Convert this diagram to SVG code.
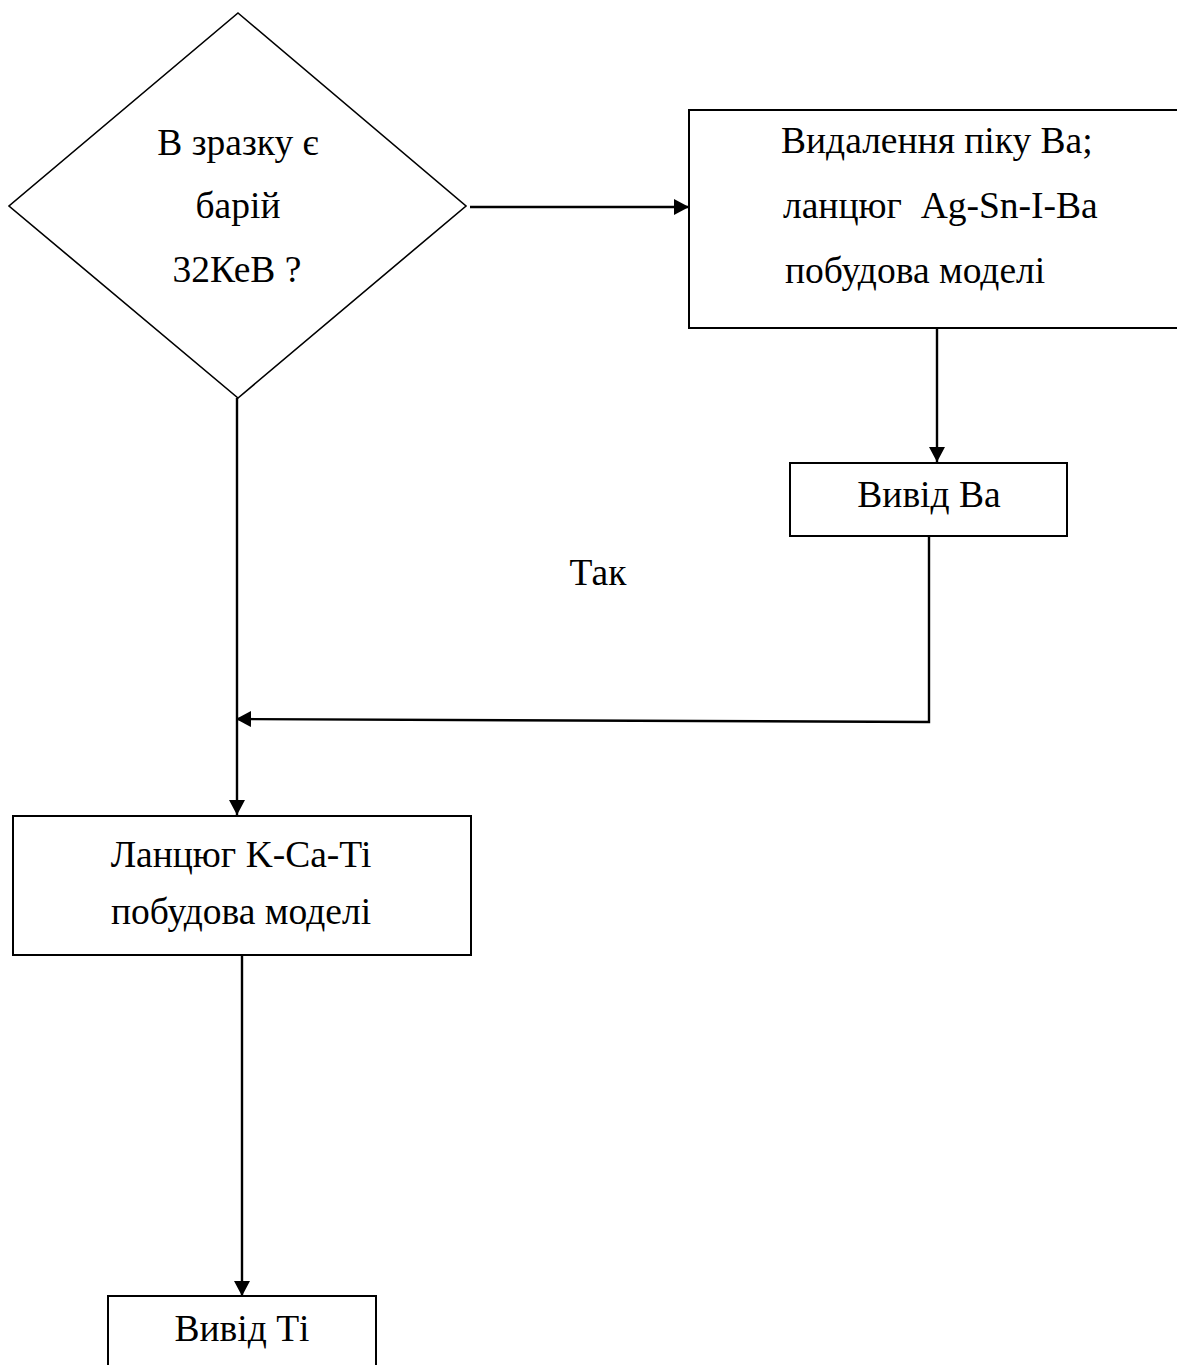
<svg xmlns="http://www.w3.org/2000/svg" width="1177" height="1365" viewBox="0 0 1177 1365">
  <defs>
    <marker id="arrow" markerUnits="userSpaceOnUse" markerWidth="16" markerHeight="16" refX="15" refY="8" orient="auto">
      <path d="M0,0 L15,8 L0,16 z" fill="#000"/>
    </marker>
    <style>
      .box { fill: #fff; stroke: #000; stroke-width: 2; }
      .dia { fill: #fff; stroke: #000; stroke-width: 1.6; }
      .conn { fill: none; stroke: #000; stroke-width: 2.4; }
      .lbl { font-family: "Liberation Serif", "Times New Roman", serif; font-size: 37.5px; fill: #000; }
      .c { text-anchor: middle; }
    </style>
  </defs>
  <rect width="1177" height="1365" fill="#fff"/>

  <g id="connectors">
    <path class="conn" d="M470,207 L689,207" marker-end="url(#arrow)"/>
    <path class="conn" d="M937,328 L937,462" marker-end="url(#arrow)"/>
    <path class="conn" d="M929,536 L929,722 L236,719" marker-end="url(#arrow)"/>
    <path class="conn" d="M237,398 L237,815" marker-end="url(#arrow)"/>
    <path class="conn" d="M242,955 L242,1296" marker-end="url(#arrow)"/>
  </g>

  <g id="decision">
    <polygon class="dia" points="238,13 466,206 238,398 9,206"/>
    <text class="lbl c" x="238" y="155">В зразку є</text>
    <text class="lbl c" x="238" y="218">барій</text>
    <text class="lbl c" x="237" y="282">32КеВ ?</text>
  </g>

  <g id="remove-ba">
    <rect class="box" x="689" y="110" width="540" height="218"/>
    <text class="lbl" x="781" y="153">Видалення піку Ва;</text>
    <text class="lbl" x="783" y="218" xml:space="preserve">ланцюг  Ag-Sn-I-Ba</text>
    <text class="lbl" x="785" y="283">побудова моделі</text>
  </g>

  <g id="output-ba">
    <rect class="box" x="790" y="463" width="277" height="73"/>
    <text class="lbl c" x="929" y="507">Вивід Ва</text>
  </g>

  <g id="label-yes">
    <text class="lbl c" x="598" y="585">Так</text>
  </g>

  <g id="chain-kcati">
    <rect class="box" x="13" y="816" width="458" height="139"/>
    <text class="lbl c" x="241" y="867">Ланцюг K-Ca-Ti</text>
    <text class="lbl c" x="241" y="924">побудова моделі</text>
  </g>

  <g id="output-ti">
    <rect class="box" x="108" y="1296" width="268" height="100"/>
    <text class="lbl c" x="242" y="1341">Вивід Ті</text>
  </g>
</svg>
